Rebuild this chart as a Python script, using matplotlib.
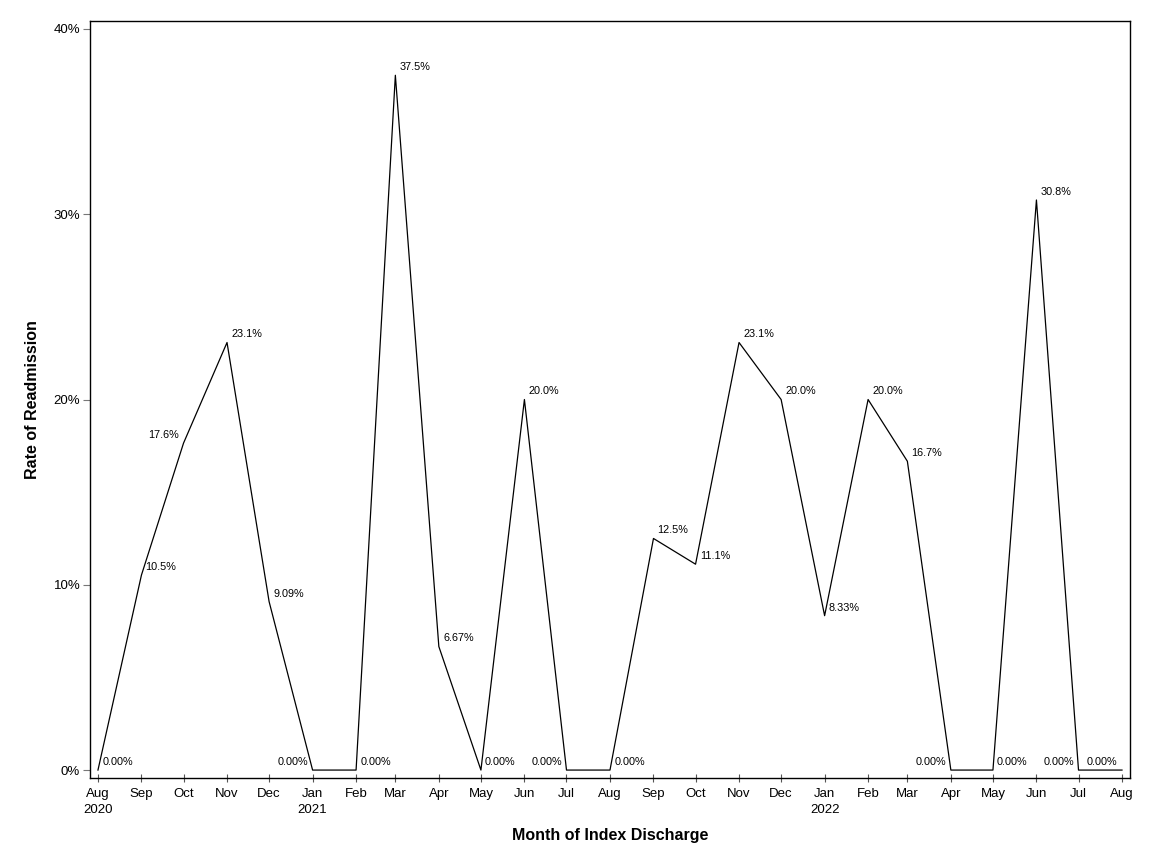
import datetime as dt
import matplotlib
matplotlib.use("Agg")
import matplotlib.pyplot as plt
import matplotlib.dates as mdates
from matplotlib.ticker import FixedLocator, FuncFormatter

# ---- data: monthly readmission rate (%) ----
months = ["2020-08", "2020-09", "2020-10", "2020-11", "2020-12",
          "2021-01", "2021-02", "2021-03", "2021-04", "2021-05", "2021-06",
          "2021-07", "2021-08", "2021-09", "2021-10", "2021-11", "2021-12",
          "2022-01", "2022-02", "2022-03", "2022-04", "2022-05", "2022-06",
          "2022-07", "2022-08"]
rates = [0.0, 10.526, 17.647, 23.077, 9.091,
         0.0, 0.0, 37.5, 6.667, 0.0, 20.0,
         0.0, 0.0, 12.5, 11.111, 23.077, 20.0,
         8.333, 20.0, 16.667, 0.0, 0.0, 30.769,
         0.0, 0.0]
# labels that sit to the left of their point
left_labels = ["2020-10", "2021-01", "2021-07", "2022-04", "2022-07", "2022-08"]
y_ticks = [0, 10, 20, 30, 40]

plt.rcParams["font.family"] = ["Liberation Sans", "DejaVu Sans"]

dates = [dt.datetime.strptime(m, "%Y-%m") for m in months]

fig = plt.figure(figsize=(11.52, 8.64), dpi=100)
ax = fig.add_axes([0.0781, 0.0995, 0.9028, 0.8762])

ax.plot(dates, rates, color="black", linewidth=0.9)

# point labels, 3 significant digits like the SAS output
for m, d, v in zip(months, dates, rates):
    txt = format(v, "#.3g") + "%"
    if m in left_labels:
        ax.annotate(txt, (d, v), xytext=(-3.2, 5.8), textcoords="offset points",
                    ha="right", va="center", fontsize=7.8)
    else:
        ax.annotate(txt, (d, v), xytext=(3, 5.8), textcoords="offset points",
                    ha="left", va="center", fontsize=7.8)

# axes ranges
pad = dt.timedelta(days=5.7)
ax.set_xlim(dates[0] - pad, dates[-1] + pad)
ax.set_ylim(-0.43, 40.43)

# x ticks: every month, year shown under Jan and under the first tick
ax.xaxis.set_major_locator(mdates.MonthLocator())

def month_fmt(x, pos):
    d = mdates.num2date(x)
    lab = d.strftime("%b")
    if d.month == 1 or pos == 0:
        lab += "\n" + str(d.year)
    return lab

ax.xaxis.set_major_formatter(FuncFormatter(month_fmt))
ax.yaxis.set_major_locator(FixedLocator(y_ticks))
ax.yaxis.set_major_formatter(FuncFormatter(lambda v, p: f"{v:.0f}%"))

ax.tick_params(axis="x", direction="inout", length=6, width=0.8,
               labelsize=9.5, pad=4, color="#555555")
ax.tick_params(axis="y", direction="out", length=5, width=0.8,
               labelsize=9.5, pad=2, color="#777777")
for lab in ax.get_xticklabels():
    lab.set_linespacing(1.45)

for s in ax.spines.values():
    s.set_linewidth(1.0)

ax.set_xlabel("Month of Index Discharge", fontsize=11.5, fontweight="bold", labelpad=9)
ax.set_ylabel("Rate of Readmission", fontsize=11.5, fontweight="bold", labelpad=10)

fig.savefig("out.png", dpi=100)
